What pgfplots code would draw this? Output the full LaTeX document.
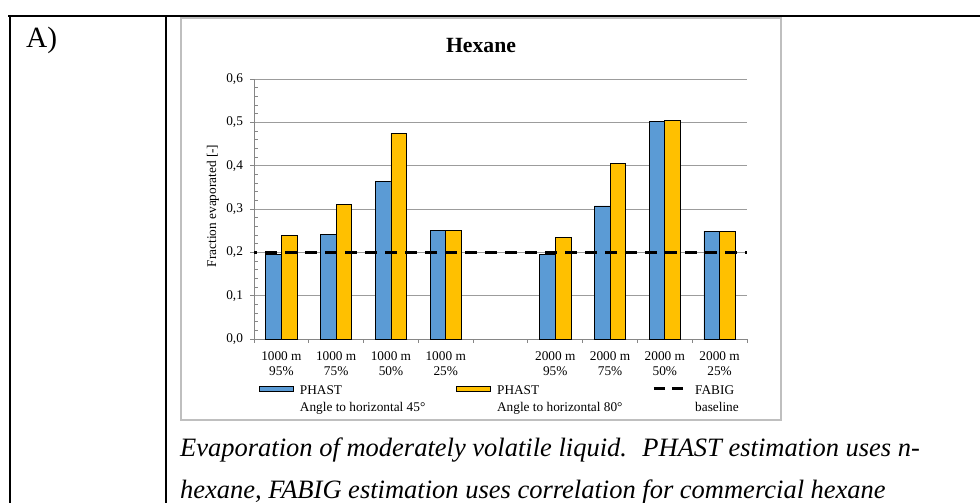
\documentclass[border=0pt]{standalone}
\usepackage{fontspec}
\setmainfont{Liberation Serif}
\usepackage{pgfplots}
\pgfplotsset{compat=1.18}
\definecolor{barblue}{HTML}{5B9BD5}
\definecolor{baryellow}{HTML}{FFC000}
\definecolor{axgray}{HTML}{868686}
\definecolor{gridgray}{HTML}{9C9C9C}
\definecolor{boxgray}{HTML}{BFBFBF}
\newcommand\cf{\fontsize{13.3}{15}\selectfont}
\newcommand\lf{\fontsize{13.3}{17}\selectfont}
\begin{document}
\begin{tikzpicture}
\path[use as bounding box] (0pt,0pt) rectangle (980pt,-503pt);
\begin{scope}[x=1pt,y=-1pt]
 \draw[line width=2pt] (8,16) -- (980,16);
 \draw[line width=2pt] (9.7,16) -- (9.7,503);
 \draw[line width=2pt] (165.7,16) -- (165.7,503);
 \draw[boxgray, line width=1.2pt] (181,18) rectangle (781,420);
 \node[anchor=base west, font=\fontsize{29.4}{34}\selectfont, inner sep=0pt] at (26,48) {A)};
 \node[anchor=base, font=\fontsize{21.7}{25}\selectfont\bfseries, inner sep=0pt] at (481,53) {Hexane};
 \node[anchor=base west, font=\fontsize{26.5}{30}\selectfont\itshape, inner sep=0pt] at (180,456) {Evaporation of moderately volatile liquid.~ PHAST estimation uses n-};
 \node[anchor=base west, font=\fontsize{26.5}{30}\selectfont\itshape, inner sep=0pt] at (180,498) {hexane, FABIG estimation uses correlation for commercial hexane};
\end{scope}
\begin{axis}[
  at={(254pt,-339pt)}, anchor=south west,
  scale only axis, width=493pt, height=260pt,
  xmin=-0.5, xmax=8.5, ymin=0, ymax=0.6,
  enlargelimits=false,
  axis x line*=bottom, axis y line*=left,
  axis line style={draw=axgray, line width=1pt, -},
  tick align=outside,
  major tick length=4pt, minor tick length=3.5pt,
  xtick={0,1,2,3,5,6,7,8},
  xticklabels={{1000 m\\95\%},{1000 m\\75\%},{1000 m\\50\%},{1000 m\\25\%},{2000 m\\95\%},{2000 m\\75\%},{2000 m\\50\%},{2000 m\\25\%}},
  minor xtick={-0.5,0.5,1.5,2.5,3.5,4.5,5.5,6.5,7.5,8.5},
  major x tick style={draw=none},
  minor x tick style={draw=axgray, line width=1pt},
  ytick={0,0.1,0.2,0.3,0.4,0.5,0.6},
  minor y tick num=4,
  major y tick style={draw=axgray, line width=1pt},
  minor y tick style={draw=axgray, line width=1pt, xshift=3.5pt},
  ymajorgrids, grid style={draw=gridgray, line width=1pt},
  xticklabel style={align=center, font=\cf, yshift=-5pt},
  yticklabel style={font=\cf, xshift=-3.5pt},
  /pgf/number format/use comma,
  /pgf/number format/fixed,
  /pgf/number format/fixed zerofill,
  /pgf/number format/precision=1,
  /pgf/number format/assume math mode=true,
  ylabel={Fraction evaporated [-]},
  ylabel style={font=\cf, at={(axis description cs:-0.0832,0.512)}, anchor=center},
  legend columns=3,
  legend cell align=left,
  legend style={at={(axis description cs:0.0101,-0.173)}, anchor=north west, draw=none, fill=none, inner sep=0pt, font=\lf, nodes={align=left},
    /tikz/column 1/.style={column sep=4pt}, /tikz/column 2/.style={column sep=29pt},
    /tikz/column 3/.style={column sep=4pt}, /tikz/column 4/.style={column sep=28pt},
    /tikz/column 5/.style={column sep=4pt}},
]
\addplot[ybar, bar width=15.66pt, bar shift=-7.83pt, fill=barblue, draw=black, line width=0.8pt,
  legend image code/.code={\draw[fill=barblue, draw=black, line width=0.8pt] (0pt,8.2pt) rectangle (34pt,13.8pt);}]
  coordinates {(0,0.196) (1,0.241) (2,0.364) (3,0.250) (5,0.195) (6,0.307) (7,0.502) (8,0.249)};
\addlegendentry{PHAST\\Angle to horizontal 45°}
\addplot[ybar, bar width=15.66pt, bar shift=7.83pt, fill=baryellow, draw=black, line width=0.8pt,
  legend image code/.code={\draw[fill=baryellow, draw=black, line width=0.8pt] (0pt,8.2pt) rectangle (34pt,13.8pt);}]
  coordinates {(0,0.238) (1,0.310) (2,0.475) (3,0.250) (5,0.235) (6,0.405) (7,0.504) (8,0.249)};
\addlegendentry{PHAST\\Angle to horizontal 80°}
\addplot[black, line width=2.7pt, dash pattern=on 12pt off 8pt, dash phase=9pt,
  legend image code/.code={\draw[black, line width=2.7pt, dash pattern=on 11pt off 7pt, dash phase=0pt] (0pt,11pt) -- (34pt,11pt);}]
  coordinates {(-0.5,0.2) (8.5,0.2)};
\addlegendentry{FABIG\\baseline}
\end{axis}
\end{tikzpicture}
\end{document}
